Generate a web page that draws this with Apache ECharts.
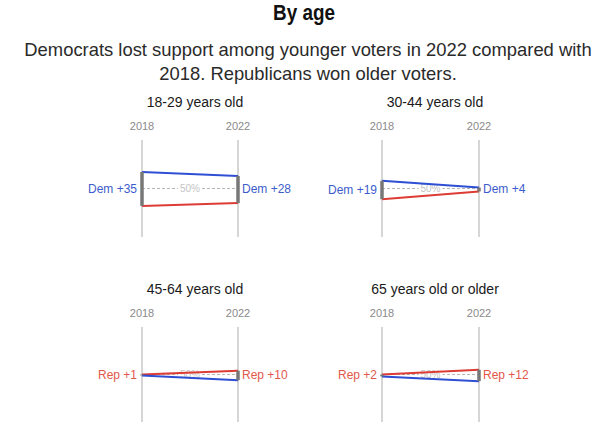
<!DOCTYPE html>
<html>
<head>
<meta charset="utf-8">
<script src="https://cdn.jsdelivr.net/npm/echarts@6/dist/echarts.min.js"></script>
<style>html,body{margin:0;padding:0;background:#fff;}#c{width:606px;height:440px;}</style>
</head>
<body>
<div id="c"></div>
<script>
var years = ['2018', '2022'];
var groups = ['18-29 years old', '30-44 years old', '45-64 years old', '65 years old or older'];
var demShare = [[67, 63], [58, 51], [49, 44], [48, 43]];
var repShare = [[32, 35], [39, 47], [50, 54], [50, 55]];
var refLine = 50;

var BLUE = '#2e4fd4', RED = '#dd3b34', DEMTXT = '#3d5ccc', REPTXT = '#e2574c';
var FONT = '"Liberation Sans", Arial, sans-serif';

var panels = [
  {left: 142, top: 140, width: 96, height: 97, cx: 190, ty: 99},
  {left: 382, top: 140, width: 97, height: 97, cx: 430, ty: 99},
  {left: 142, top: 327, width: 96, height: 95, cx: 190, ty: 286},
  {left: 382, top: 327, width: 97, height: 95, cx: 430, ty: 286}
];

var option = {
  animation: false,
  backgroundColor: '#fff',
  graphic: [
    {type: 'text', x: 304, y: 12, scaleX: 0.86, scaleY: 1, z: 10,
      style: {text: 'By age', font: 'bold 22px ' + FONT, fill: '#111', align: 'center', verticalAlign: 'middle'}}
  ],
  title: [
    {text: 'Democrats lost support among younger voters in 2022 compared with\n2018. Republicans won older voters.', left: 303, top: 32, textAlign: 'center',
      textStyle: {fontFamily: FONT, fontWeight: 'normal', fontSize: 18.4, color: '#2a2a2a', lineHeight: 24, align: 'center'}}
  ],
  grid: [], xAxis: [], yAxis: [], series: []
};

panels.forEach(function (p, i) {
  option.title.push({text: groups[i], left: p.cx, top: p.ty - 9, textAlign: 'center',
    textStyle: {fontFamily: FONT, fontWeight: 'normal', fontSize: 14, color: '#1a1a1a'}});
  option.grid.push({left: p.left, top: p.top, width: p.width, height: p.height, containLabel: false});
  option.xAxis.push({type: 'category', gridIndex: i, data: years, boundaryGap: false, position: 'top',
    axisLine: {show: false}, axisTick: {show: false},
    axisLabel: {color: '#8a8a8a', fontSize: 11, fontFamily: FONT, margin: 9},
    splitLine: {show: true, lineStyle: {color: '#c8c8c8', width: 1.5}}});
  option.yAxis.push({type: 'value', gridIndex: i, min: 0, max: 100, show: false, splitLine: {show: false}});

  option.series.push({type: 'line', xAxisIndex: i, yAxisIndex: i, data: repShare[i], symbol: 'none', z: 3,
    lineStyle: {color: RED, width: 2},
    markLine: {silent: true, symbol: 'none', z: 2,
      lineStyle: {color: '#b5b5b5', type: [3, 2], width: 1},
      label: {show: true, position: 'insideMiddle', formatter: refLine + '%', color: '#c4c4c4', fontSize: 10, fontFamily: FONT, backgroundColor: '#fff', padding: [0, 2], distance: 0},
      data: [{yAxis: refLine}]}});
  option.series.push({type: 'line', xAxisIndex: i, yAxisIndex: i, data: demShare[i], symbol: 'none', z: 3,
    lineStyle: {color: BLUE, width: 2}});

  var cdata = years.map(function (y, k) { return [k, demShare[i][k], repShare[i][k]]; });
  option.series.push({type: 'custom', xAxisIndex: i, yAxisIndex: i, data: cdata, z: 4,
    renderItem: function (params, api) {
      var k = api.value(0), d = api.value(1), r = api.value(2);
      var p1 = api.coord([k, d]), p2 = api.coord([k, r]);
      var pm = api.coord([k, (d + r) / 2]);
      var m = d - r;
      var txt = m >= 0 ? 'Dem +' + m : 'Rep +' + (-m);
      var left = k === 0;
      return {type: 'group', children: [
        {type: 'line', shape: {x1: p1[0], y1: p1[1], x2: p2[0], y2: p2[1]}, style: {stroke: '#777', lineWidth: 3.5}},
        {type: 'text', x: left ? p1[0] - 5 : p1[0] + 4, y: pm[1],
          style: {text: txt, fill: m >= 0 ? DEMTXT : REPTXT, font: '12px ' + FONT,
            align: left ? 'right' : 'left', verticalAlign: 'middle'}}
      ]};
    }});
});

var chart = echarts.init(document.getElementById('c'), null, {renderer: 'svg'});
chart.setOption(option);
</script>
</body>
</html>
